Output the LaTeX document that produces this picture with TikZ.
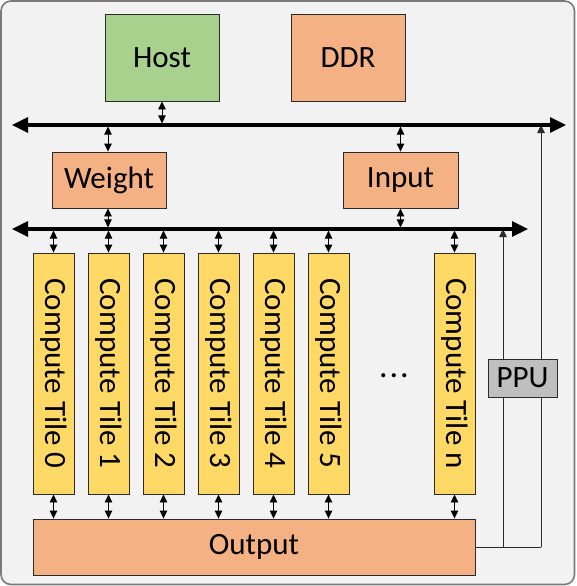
\documentclass[tikz,border=0pt]{standalone}
\usepackage{fontspec}
\setmainfont{Carlito}
\usetikzlibrary{arrows.meta}
\definecolor{bgc}{HTML}{F2F2F2}
\definecolor{bgb}{HTML}{7A7A7A}
\definecolor{hostc}{HTML}{A9D18E}
\definecolor{orc}{HTML}{F4B183}
\definecolor{tilec}{HTML}{FFD966}
\definecolor{ppuc}{HTML}{BFBFBF}
\definecolor{edgec}{HTML}{2B2B2B}
\tikzset{
  blk/.style={draw=edgec, line width=0.9pt, inner sep=0pt, font=\fontsize{31}{37}\selectfont},
  tilebox/.style={blk, fill=tilec, rotate=-90, minimum width=241pt, minimum height=41pt},
  dbl/.style={{Triangle[length=8pt,width=7.5pt]}-{Triangle[length=8pt,width=7.5pt]}, line width=0.9pt, black},
  bus/.style={{Triangle[length=16pt,width=15pt]}-{Triangle[length=16pt,width=15pt]}, line width=3.2pt, black},
  thin/.style={-{Triangle[length=8pt,width=7.5pt]}, line width=0.9pt, edgec},
}
\begin{document}
\begin{tikzpicture}[x=1pt,y=-1pt]
\useasboundingbox (0,0) rectangle (576,586);
\draw[fill=bgc, draw=bgb, line width=1.6pt, rounded corners=10pt] (1,1) rectangle (574.5,584.5);
% boxes
\node[blk, fill=hostc, minimum width=114pt, minimum height=87pt] (host) at (162,57.5) {Host};
\node[blk, fill=orc, minimum width=114pt, minimum height=87pt] (ddr) at (348,57.5) {DDR};
\node[blk, fill=orc, minimum width=114pt, minimum height=56pt] (weight) at (109,180) {Weight};
\node[blk, fill=orc, minimum width=115pt, minimum height=56pt] (input) at (400.5,180) {Input};
\node[blk, fill=orc, minimum width=442pt, minimum height=56pt] (output) at (254,547) {Output};
\foreach \k in {0,...,5}{
  \node[tilebox] (t\k) at ({53.5+55*\k},373.5) {Compute Tile \k};
}
\node[tilebox] (tn) at (454.5,373.5) {Compute Tile n};
\node[font=\fontsize{34}{40}\selectfont, inner sep=0pt] (dots) at (394,376) {.\kern2pt.\kern2pt.};
% buses
\coordinate (b1l) at (12,125);
\coordinate (b1r) at (566,125);
\coordinate (b2l) at (12,229);
\coordinate (b2r) at (528,229);
% thin lines to PPU
\coordinate (c1) at (503,547);
\coordinate (c2) at (541,547);
\draw[line width=0.9pt, edgec] (output.east |- c1) -- (c2);
\draw[thin] (c1) -- (c1 |- b2l);
\draw[thin] (c2) -- (c2 |- b1l);
\node[blk, fill=ppuc, minimum width=69pt, minimum height=38pt] (ppu) at (522.5,378) {PPU};
\draw[bus] (b1l) -- (b1r);
\draw[bus] (b2l) -- (b2r);
% double arrows
\draw[dbl, shorten >=1.6pt] (host.south) -- (host.south |- b1l);
\coordinate (wa) at (108,125);
\coordinate (wb) at (108,229);
\draw[dbl, shorten <=1.6pt] (wa) -- (wa |- weight.north);
\draw[dbl, shorten >=1.6pt] (wb |- weight.south) -- (wb);
\draw[dbl, shorten <=1.6pt] (input.north |- b1l) -- (input.north);
\draw[dbl, shorten >=1.6pt] (input.south) -- (input.south |- b2l);
\foreach \n in {t0,t1,t2,t3,t4,t5,tn}{
  \draw[dbl, shorten <=1.6pt] (\n.west |- b2l) -- (\n.west);
  \draw[dbl] (\n.east) -- (\n.east |- output.north);
}
\end{tikzpicture}
\end{document}
